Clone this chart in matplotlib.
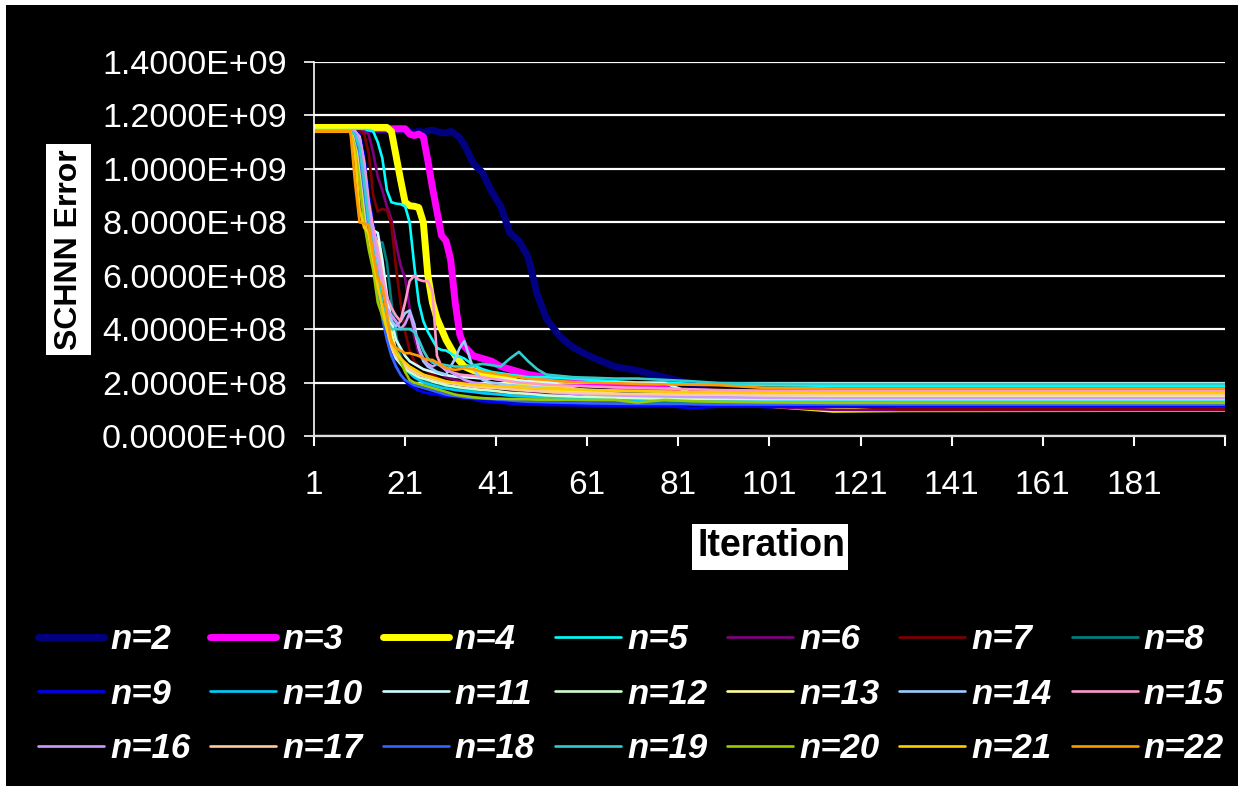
import matplotlib
matplotlib.use("Agg")
import matplotlib.pyplot as plt
from matplotlib.patches import Rectangle
from matplotlib.ticker import FuncFormatter
from matplotlib.font_manager import FontProperties

iters = [1, 9, 10, 11, 12, 13, 14, 15, 16, 17, 18, 19, 20, 21, 22, 23, 24, 25, 26, 27, 28, 29, 30,
         31, 32, 33, 34, 36, 38, 40, 42, 44, 46, 48, 50, 52, 55, 58, 62, 67, 72, 78, 84, 90, 100,
         115, 130, 201]

# SCHNN error, in units of 1e8
n2 = [11.45, 11.45, 11.45, 11.45, 11.45, 11.45, 11.45, 11.45, 11.45, 11.45, 11.45, 11.45, 11.45, 11.45,
      11.4, 11.35, 11.42, 11.35, 11.42, 11.45, 11.4, 11.35, 11.35, 11.4, 11.3, 11.15, 10.9, 10.2, 9.85,
      9.15, 8.6, 7.6, 7.3, 6.7, 5.3, 4.4, 3.72, 3.3, 2.95, 2.6, 2.45, 2.2, 1.95, 1.5, 1.15, 1.08, 1.07, 1.07]
n3 = [11.5, 11.5, 11.5, 11.5, 11.5, 11.5, 11.5, 11.5, 11.5, 11.5, 11.5, 11.5, 11.5, 11.5,
      11.3, 11.25, 11.3, 11.2, 10.3, 9.3, 8.4, 7.5, 7.3, 6.6, 5.0, 3.8, 3.35, 3.0, 2.9,
      2.8, 2.6, 2.5, 2.4, 2.3, 2.25, 2.2, 2.1, 2.05, 1.98, 1.9, 1.85, 1.75, 1.62, 1.6, 1.58, 1.57, 1.57, 1.57]
n4 = [11.55, 11.55, 11.55, 11.55, 11.55, 11.55, 11.55, 11.55, 11.55, 11.55, 11.4, 10.5, 9.6, 8.75,
      8.62, 8.6, 8.55, 8.0, 6.0, 5.0, 4.4, 4.0, 3.6, 3.3, 3.0, 2.8, 2.6, 2.45, 2.35,
      2.25, 2.2, 2.1, 2.0, 1.95, 1.9, 1.85, 1.8, 1.7, 1.6, 1.5, 1.45, 1.4, 1.35, 1.3, 1.2, 1.0, 1.02, 1.03]
n5 = [11.45, 11.45, 11.45, 11.45, 11.45, 11.45, 11.4, 11.0, 10.4, 9.2, 8.75, 8.7, 8.68, 8.6,
      8.0, 6.4, 5.0, 4.3, 3.9, 3.6, 3.3, 3.22, 3.2, 3.1, 2.98, 2.97, 2.9, 2.65, 2.5,
      2.4, 2.35, 2.3, 2.25, 2.2, 2.2, 2.2, 2.18, 2.15, 2.1, 2.05, 2.0, 2.0, 1.95, 1.92, 1.9, 1.88, 1.88, 1.88]
n6 = [11.4, 11.4, 11.4, 11.4, 11.4, 11.3, 10.6, 9.7, 9.2, 8.6, 8.1, 7.2, 6.4, 5.9,
      4.8, 3.7, 3.1, 2.8, 2.6, 2.5, 2.4, 2.3, 2.2, 2.15, 2.1, 2.05, 2.0, 1.95, 1.9,
      1.85, 1.8, 1.75, 1.7, 1.65, 1.6, 1.55, 1.5, 1.45, 1.4, 1.35, 1.3, 1.25, 1.2, 1.15, 1.1, 0.98, 0.97, 0.97]
n7 = [11.4, 11.4, 11.4, 11.4, 11.3, 10.6, 9.0, 8.4, 8.5, 8.45, 7.9, 6.3, 5.0, 3.9,
      3.2, 2.8, 2.6, 2.5, 2.4, 2.3, 2.2, 2.1, 2.05, 2.0, 1.95, 1.9, 1.85, 1.8, 1.75,
      1.7, 1.65, 1.6, 1.55, 1.5, 1.45, 1.42, 1.38, 1.35, 1.3, 1.27, 1.25, 1.22, 1.2, 1.16, 1.15, 1.14, 1.0, 1.0]
n8 = [11.4, 11.4, 11.4, 11.1, 10.2, 9.0, 7.7, 7.2, 7.25, 6.5, 5.0, 3.8, 3.0, 2.6,
      2.4, 2.25, 2.15, 2.05, 2.0, 1.95, 1.9, 1.85, 1.82, 1.8, 1.78, 1.75, 1.72, 1.68, 1.62,
      1.58, 1.55, 1.5, 1.48, 1.45, 1.42, 1.4, 1.38, 1.35, 1.32, 1.3, 1.28, 1.25, 1.23, 1.22, 1.2, 1.2, 1.2, 1.2]
n9 = [11.4, 11.4, 11.4, 11.3, 10.5, 9.0, 7.9, 7.3, 6.0, 4.5, 3.2, 2.6, 2.3, 2.05,
      1.9, 1.8, 1.7, 1.65, 1.6, 1.58, 1.55, 1.52, 1.5, 1.48, 1.47, 1.45, 1.42, 1.38, 1.3,
      1.28, 1.25, 1.22, 1.2, 1.18, 1.17, 1.16, 1.16, 1.15, 1.14, 1.13, 1.12, 1.12, 1.05, 1.1, 1.1, 1.1, 1.1, 1.1]
n10 = [11.4, 11.4, 11.4, 11.0, 9.5, 8.2, 7.8, 7.0, 5.8, 4.5, 3.5, 3.0, 2.7, 2.5,
       2.35, 2.2, 2.1, 2.0, 1.95, 1.9, 1.85, 1.8, 1.78, 1.75, 1.72, 1.7, 1.68, 1.65, 1.6,
       1.58, 1.55, 1.52, 1.5, 1.48, 1.46, 1.45, 1.43, 1.42, 1.4, 1.38, 1.36, 1.35, 1.33, 1.32, 1.3, 1.3, 1.3, 1.3]
n11 = [11.4, 11.4, 11.4, 11.2, 10.2, 8.6, 7.7, 7.6, 6.6, 5.3, 4.3, 3.6, 3.3, 3.0,
       2.8, 2.7, 2.6, 2.5, 2.45, 2.4, 2.35, 2.3, 2.28, 2.25, 2.22, 2.2, 2.2, 2.18, 2.15,
       2.15, 2.12, 2.1, 2.08, 2.06, 2.05, 2.04, 2.02, 2.0, 2.0, 2.0, 1.99, 1.98, 1.6, 1.5, 1.46, 1.45, 1.45, 1.45]
n12 = [11.4, 11.4, 11.3, 10.5, 9.0, 7.8, 7.2, 6.0, 4.8, 3.9, 3.3, 2.9, 2.7, 2.5,
       2.4, 2.3, 2.2, 2.15, 2.1, 2.05, 2.0, 1.95, 1.9, 1.88, 1.85, 1.82, 1.8, 1.76, 1.72,
       1.7, 1.66, 1.62, 1.6, 1.58, 1.55, 1.52, 1.5, 1.48, 1.46, 1.44, 1.42, 1.4, 1.4, 1.39, 1.38, 1.38, 1.38, 1.38]
n13 = [11.4, 11.4, 11.4, 11.0, 9.8, 8.3, 7.6, 7.2, 6.0, 4.8, 3.9, 3.2, 2.9, 2.7,
       2.55, 2.45, 2.35, 2.28, 2.2, 2.15, 2.1, 2.05, 2.02, 2.0, 1.98, 1.95, 1.92, 1.88, 1.85,
       1.82, 1.8, 1.78, 1.75, 1.72, 1.7, 1.68, 1.65, 1.62, 1.6, 1.58, 1.56, 1.55, 1.53, 1.52, 1.5, 1.5, 1.5, 1.5]
n14 = [11.4, 11.4, 11.4, 11.1, 10.0, 8.5, 7.6, 6.8, 5.8, 4.8, 4.3, 4.1, 4.3, 4.6,
       4.7, 4.2, 3.3, 2.8, 2.6, 2.5, 2.4, 2.35, 2.3, 2.6, 2.9, 3.3, 3.55, 2.5, 2.1,
       2.0, 1.95, 1.9, 1.88, 1.85, 1.82, 1.8, 1.78, 1.75, 1.72, 1.7, 1.68, 1.65, 1.62, 1.6, 1.58, 1.57, 1.57, 1.57]
n15 = [11.4, 11.4, 11.4, 11.2, 10.3, 8.8, 7.8, 7.0, 6.0, 5.2, 4.8, 4.5, 4.3, 5.0,
       5.8, 6.0, 5.85, 5.8, 5.8, 5.4, 3.0, 2.6, 2.45, 2.4, 2.35, 2.3, 2.28, 2.25, 2.2,
       2.15, 2.1, 2.05, 2.0, 1.98, 1.95, 1.92, 1.9, 1.88, 1.85, 1.82, 1.8, 1.78, 1.75, 1.72, 1.7, 1.7, 1.7, 1.7]
n16 = [11.4, 11.4, 11.4, 11.1, 10.0, 8.4, 7.5, 6.6, 5.5, 4.8, 4.5, 4.3, 4.0, 4.2,
       4.6, 4.0, 3.3, 2.9, 2.7, 2.6, 2.7, 2.6, 2.5, 2.4, 2.3, 2.2, 2.1, 2.0, 1.95,
       1.9, 1.85, 1.8, 1.75, 1.72, 1.7, 1.65, 1.6, 1.58, 1.55, 1.52, 1.5, 1.48, 1.46, 1.45, 1.43, 1.42, 1.42, 1.42]
n17 = [11.4, 11.4, 11.1, 10.0, 8.5, 7.5, 6.5, 5.5, 4.5, 3.8, 3.3, 3.0, 2.8, 2.6,
       2.5, 2.4, 2.3, 2.25, 2.2, 2.15, 2.1, 2.05, 2.0, 1.98, 1.95, 1.92, 1.9, 1.85, 1.82,
       1.8, 1.78, 1.75, 1.72, 1.7, 1.68, 1.66, 1.64, 1.62, 1.6, 1.58, 1.57, 1.56, 1.55, 1.55, 1.55, 1.55, 1.55, 1.55]
n18 = [11.4, 11.4, 11.3, 10.6, 9.2, 7.8, 6.8, 5.6, 4.4, 3.6, 3.0, 2.6, 2.3, 2.1,
       2.0, 1.9, 1.85, 1.8, 1.75, 1.7, 1.65, 1.6, 1.55, 1.52, 1.5, 1.48, 1.45, 1.42, 1.4,
       1.38, 1.35, 1.33, 1.3, 1.28, 1.27, 1.26, 1.25, 1.24, 1.22, 1.21, 1.2, 1.2, 1.19, 1.18, 1.18, 1.18, 1.18, 1.18]
n19 = [11.4, 11.4, 11.3, 10.8, 9.5, 8.0, 7.0, 6.0, 5.0, 4.3, 4.0, 4.0, 4.0, 4.0,
       4.0, 3.9, 3.6, 3.2, 2.9, 2.75, 2.7, 2.68, 2.65, 2.62, 2.6, 2.6, 2.6, 2.65, 2.7,
       2.65, 2.6, 2.9, 3.15, 2.8, 2.5, 2.3, 2.25, 2.2, 2.18, 2.15, 2.15, 2.1, 2.05, 1.98, 1.96, 1.95, 1.95, 1.95]
n20 = [11.4, 11.4, 10.8, 9.5, 8.0, 7.0, 6.2, 5.0, 4.5, 4.0, 3.6, 3.2, 2.8, 2.4,
       2.1, 2.0, 1.95, 1.9, 1.85, 1.8, 1.75, 1.7, 1.65, 1.6, 1.55, 1.52, 1.5, 1.45, 1.42,
       1.4, 1.4, 1.38, 1.38, 1.37, 1.36, 1.36, 1.35, 1.35, 1.35, 1.35, 1.25, 1.35, 1.3, 1.28, 1.26, 1.24, 1.24, 1.24]
n21 = [11.4, 11.4, 10.5, 8.5, 7.8, 7.6, 6.6, 5.6, 4.8, 4.0, 3.5, 3.1, 2.9, 2.75,
       2.6, 2.5, 2.4, 2.3, 2.25, 2.2, 2.15, 2.1, 2.05, 2.02, 2.0, 1.98, 1.96, 1.92, 1.9,
       1.88, 1.86, 1.84, 1.82, 1.8, 1.78, 1.76, 1.75, 1.74, 1.72, 1.7, 1.68, 1.66, 1.65, 1.64, 1.62, 1.62, 1.62, 1.62]
n22 = [11.4, 11.4, 9.5, 8.0, 7.95, 7.9, 6.8, 5.9, 5.6, 4.6, 3.5, 3.3, 3.2, 3.1,
       3.1, 3.05, 3.0, 2.9, 2.85, 2.85, 2.75, 2.65, 2.55, 2.5, 2.48, 2.5, 2.55, 2.5, 2.4,
       2.35, 2.3, 2.25, 2.2, 2.15, 2.12, 2.1, 2.05, 2.02, 2.0, 1.98, 1.95, 1.93, 1.92, 1.9, 1.8, 1.78, 1.78, 1.78]

series = [n2, n3, n4, n5, n6, n7, n8, n9, n10, n11, n12, n13, n14, n15, n16, n17, n18, n19, n20, n21, n22]
labels = ["n=%d" % k for k in range(2, 23)]
colors = ["#000080", "#FF00FF", "#FFFF00", "#00FFFF", "#800080", "#800000", "#008080",
          "#0000FF", "#00CCFF", "#CCFFFF", "#CCFFCC", "#FFFF99", "#99CCFF", "#FF99CC",
          "#CC99FF", "#FFCC99", "#3366FF", "#33CCCC", "#99CC00", "#FFCC00", "#FF9900"]
xticks = [1, 21, 41, 61, 81, 101, 121, 141, 161, 181, 201]
xticklabels = ["1", "21", "41", "61", "81", "101", "121", "141", "161", "181", ""]

W, H = 1244, 792
fig = plt.figure(figsize=(W / 100, H / 100), dpi=100, facecolor="white")
# black chart area inside a thin white border
fig.patches.append(Rectangle((6 / W, 6 / H), 1232 / W, 781 / H, transform=fig.transFigure,
                             facecolor="black", edgecolor="none", zorder=-10))
# white boxes behind the axis titles
fig.patches.append(Rectangle((46 / W, 1 - 355 / H), 45 / W, 211 / H, transform=fig.transFigure,
                             facecolor="white", edgecolor="none", zorder=-5))
fig.patches.append(Rectangle((692 / W, 1 - 570 / H), 156 / W, 46 / H, transform=fig.transFigure,
                             facecolor="white", edgecolor="none", zorder=-5))

ax = fig.add_axes([314 / W, 1 - 436 / H, 911 / W, 374 / H])
ax.set_facecolor("black")
ax.set_zorder(1)

handles = []
for i, (vals, lab, c) in enumerate(zip(series, labels, colors)):
    lw = 5 if i < 3 else 1.9
    h, = ax.plot(iters, [v * 1e8 for v in vals], color=c, lw=lw, label=lab,
                 solid_joinstyle="round", solid_capstyle="round")
    handles.append(h)

ax.set_xlim(1, 201)
ax.set_ylim(0, 1.4e9)
ax.set_yticks([i * 2e8 for i in range(8)])
ax.yaxis.set_major_formatter(FuncFormatter(lambda v, p: format(v, ".4E")))
ax.set_xticks(xticks)
ax.set_xticklabels(xticklabels)

ax.grid(axis="y", color="white", lw=1.6)
ax.set_axisbelow(True)
for s in ["top", "right"]:
    ax.spines[s].set_visible(False)
ax.spines["left"].set_color("white")
ax.spines["bottom"].set_color("#dddddd")
ax.spines["left"].set_linewidth(1.2)
ax.spines["bottom"].set_linewidth(1.6)
ax.tick_params(axis="y", colors="white", labelsize=24.5, length=7.5, width=1.2, pad=12)
ax.tick_params(axis="x", colors="white", labelsize=24, length=7.5, width=1.5, pad=17)
for t in ax.get_xticklabels() + ax.get_yticklabels():
    t.set_fontfamily("Liberation Sans")

fig.text(69 / W, 1 - 250 / H, "SCHNN Error", rotation=90, ha="center", va="center",
         family="Liberation Sans", weight="bold", fontsize=23, color="black")
fig.text(771 / W, 1 - 546 / H, "Iteration", ha="center", va="center",
         family="Liberation Sans", weight="bold", fontsize=27, color="black")

# legend reads row by row: reorder for matplotlib's column filling
ncol, nrow = 7, 3
order = [r * ncol + c for c in range(ncol) for r in range(nrow)]
leg = fig.legend([handles[k] for k in order], [labels[k] for k in order],
                 loc="upper left", bbox_to_anchor=(38 / W, 1 - 623 / H), ncol=ncol,
                 frameon=False, borderaxespad=0, borderpad=0,
                 prop=FontProperties(family="Liberation Sans", weight="bold", style="italic", size=25),
                 handlelength=1.9, handletextpad=0.18, columnspacing=0.57, labelspacing=0.62)
for t in leg.get_texts():
    t.set_color("white")

fig.savefig("out.png", dpi=100, facecolor="white")
